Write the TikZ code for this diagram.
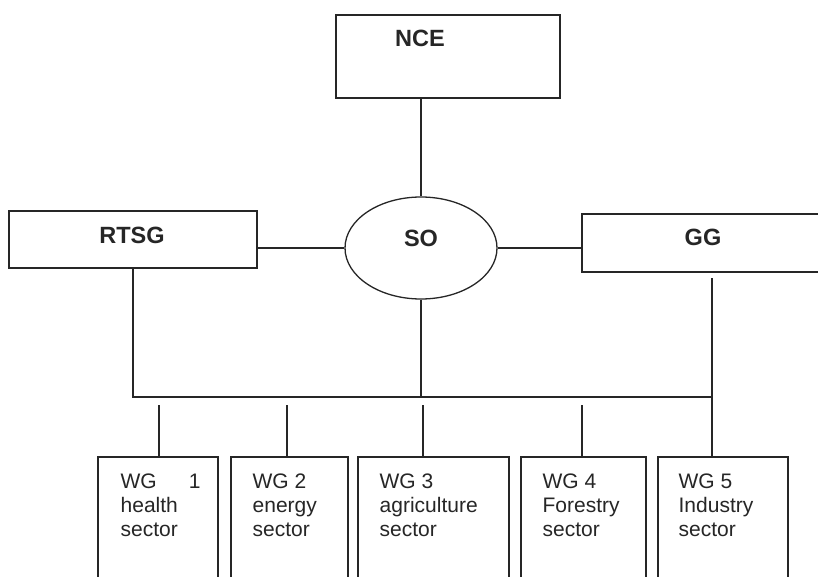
\documentclass[tikz,border=0pt]{standalone}
\usepackage{fontspec}
\setmainfont{Liberation Sans}
\usetikzlibrary{shapes.geometric}
\definecolor{ink}{HTML}{262626}
\begin{document}
\begin{tikzpicture}[x=1pt,y=-1pt,line width=1.3pt,
  box/.style={draw=ink,rectangle,inner sep=0pt},
  oval/.style={draw=ink,ellipse,inner sep=0pt},
  lbl/.style={font=\fontsize{23.5}{27}\selectfont\bfseries,text=ink,anchor=base,inner sep=0pt},
  wgtext/.style={font=\fontsize{21}{24}\selectfont,text=ink,align=left,anchor=north west,inner sep=0pt},
  link/.style={draw=ink,line width=1.3pt}]
\useasboundingbox (0,0) rectangle (818,577);
\clip (0,0) rectangle (818,577);
\fill[white] (0,0) rectangle (818,577);
% boxes
\node[box,minimum width=224pt,minimum height=83pt] (nce) at (448,56.5) {};
\node[box,minimum width=248pt,minimum height=57pt] (rtsg) at (133,239.5) {};
\node[oval,minimum width=152pt,minimum height=102pt] (so) at (421,248) {};
\node[box,minimum width=268pt,minimum height=58pt] (gg) at (716,243) {};
\node[box,minimum width=120pt,minimum height=163pt] (wg1) at (158,538.5) {};
\node[box,minimum width=117pt,minimum height=163pt] (wg2) at (289.5,538.5) {};
\node[box,minimum width=151pt,minimum height=163pt] (wg3) at (433.5,538.5) {};
\node[box,minimum width=125pt,minimum height=163pt] (wg4) at (583.5,538.5) {};
\node[box,minimum width=130pt,minimum height=163pt] (wg5) at (723,538.5) {};
% labels
\node[lbl] (ncet) at (420,47) {NCE};
\node[lbl] (rtsgt) at (132,243) {RTSG};
\node[lbl] (sot) at (421,246) {SO};
\node[lbl] (ggt) at (703,245) {GG};
\node[wgtext] (w1t) at (120,473) {WG\hspace{32pt}1\\health\\sector};
\node[wgtext] (w2t) at (252,473) {WG 2\\energy\\sector};
\node[wgtext] (w3t) at (379,473) {WG 3\\agriculture\\sector};
\node[wgtext] (w4t) at (542,473) {WG 4\\Forestry\\sector};
\node[wgtext] (w5t) at (678,473) {WG 5\\Industry\\sector};
% coordinates
\coordinate (busL) at (133,397);
\coordinate (busR) at (712,397);
\coordinate (ggdrop) at (712,278);
\coordinate (t1) at (159,405);
\coordinate (t2) at (287,405);
\coordinate (t3) at (423,405);
\coordinate (t4) at (582,405);
% connectors
\draw[link] (so.north) -- (so.north |- nce.south);
\draw[link] (so.west) -- (so.west -| rtsg.east);
\draw[link] (so.east) -- (so.east -| gg.west);
\draw[link] (rtsg.south) -- (busL) -- (busR);
\draw[link] (so.south) -- (so.south |- busL);
\draw[link] (ggdrop) -- (ggdrop |- wg5.north);
\draw[link] (t1) -- (t1 |- wg1.north);
\draw[link] (t2) -- (t2 |- wg2.north);
\draw[link] (t3) -- (t3 |- wg3.north);
\draw[link] (t4) -- (t4 |- wg4.north);
\end{tikzpicture}
\end{document}
